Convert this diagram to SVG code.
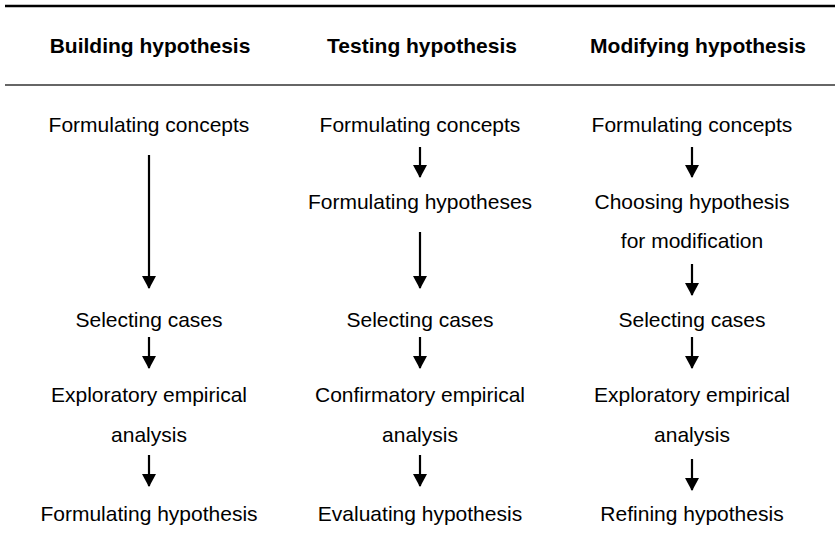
<svg xmlns="http://www.w3.org/2000/svg" width="835" height="550" viewBox="0 0 835 550">
<style>
.h{font-family:"Liberation Sans",Arial,sans-serif;font-size:21px;font-weight:bold;fill:#000;text-anchor:middle}
.t{font-family:"Liberation Sans",Arial,sans-serif;font-size:21px;fill:#000;text-anchor:middle}
.c{stroke:#000;stroke-width:2.2;fill:none}
</style>
<defs>
<marker id="ah" markerUnits="userSpaceOnUse" markerWidth="13" markerHeight="14" viewBox="0 0 13 14" refX="12" refY="7" orient="auto">
<path d="M0,0 L13,7 L0,14 Z" fill="#000"/>
</marker>
</defs>
<rect width="835" height="550" fill="#fff"/>
<g id="rules">
<line x1="5" y1="6" x2="835" y2="6" stroke="#000" stroke-width="2.5"/>
<line x1="5" y1="85" x2="835" y2="85" stroke="#333" stroke-width="1.5"/>
</g>
<g id="headers">
<text class="h" x="150" y="53">Building hypothesis</text>
<text class="h" x="422" y="53">Testing hypothesis</text>
<text class="h" x="698" y="53">Modifying hypothesis</text>
</g>
<g id="b1"><text class="t" x="149" y="132">Formulating concepts</text></g>
<g id="b2"><text class="t" x="149" y="327">Selecting cases</text></g>
<g id="b3"><text class="t" x="149" y="402">Exploratory empirical</text><text class="t" x="149" y="442">analysis</text></g>
<g id="b4"><text class="t" x="149" y="521">Formulating hypothesis</text></g>
<g id="t1"><text class="t" x="420" y="132">Formulating concepts</text></g>
<g id="t2"><text class="t" x="420" y="209">Formulating hypotheses</text></g>
<g id="t3"><text class="t" x="420" y="327">Selecting cases</text></g>
<g id="t4"><text class="t" x="420" y="402">Confirmatory empirical</text><text class="t" x="420" y="442">analysis</text></g>
<g id="t5"><text class="t" x="420" y="521">Evaluating hypothesis</text></g>
<g id="m1"><text class="t" x="692" y="132">Formulating concepts</text></g>
<g id="m2"><text class="t" x="692" y="209">Choosing hypothesis</text><text class="t" x="692" y="248">for modification</text></g>
<g id="m3"><text class="t" x="692" y="327">Selecting cases</text></g>
<g id="m4"><text class="t" x="692" y="402">Exploratory empirical</text><text class="t" x="692" y="442">analysis</text></g>
<g id="m5"><text class="t" x="692" y="521">Refining hypothesis</text></g>
<g id="connectors">
<line class="c" x1="149" y1="155" x2="149" y2="288" marker-end="url(#ah)"/>
<line class="c" x1="149" y1="337" x2="149" y2="368" marker-end="url(#ah)"/>
<line class="c" x1="149" y1="455" x2="149" y2="486" marker-end="url(#ah)"/>
<line class="c" x1="420" y1="147" x2="420" y2="177" marker-end="url(#ah)"/>
<line class="c" x1="420" y1="232" x2="420" y2="288" marker-end="url(#ah)"/>
<line class="c" x1="420" y1="337" x2="420" y2="368" marker-end="url(#ah)"/>
<line class="c" x1="420" y1="455" x2="420" y2="486" marker-end="url(#ah)"/>
<line class="c" x1="692" y1="147" x2="692" y2="177" marker-end="url(#ah)"/>
<line class="c" x1="692" y1="264" x2="692" y2="295" marker-end="url(#ah)"/>
<line class="c" x1="692" y1="337" x2="692" y2="368" marker-end="url(#ah)"/>
<line class="c" x1="692" y1="459" x2="692" y2="490" marker-end="url(#ah)"/>
</g>
</svg>
